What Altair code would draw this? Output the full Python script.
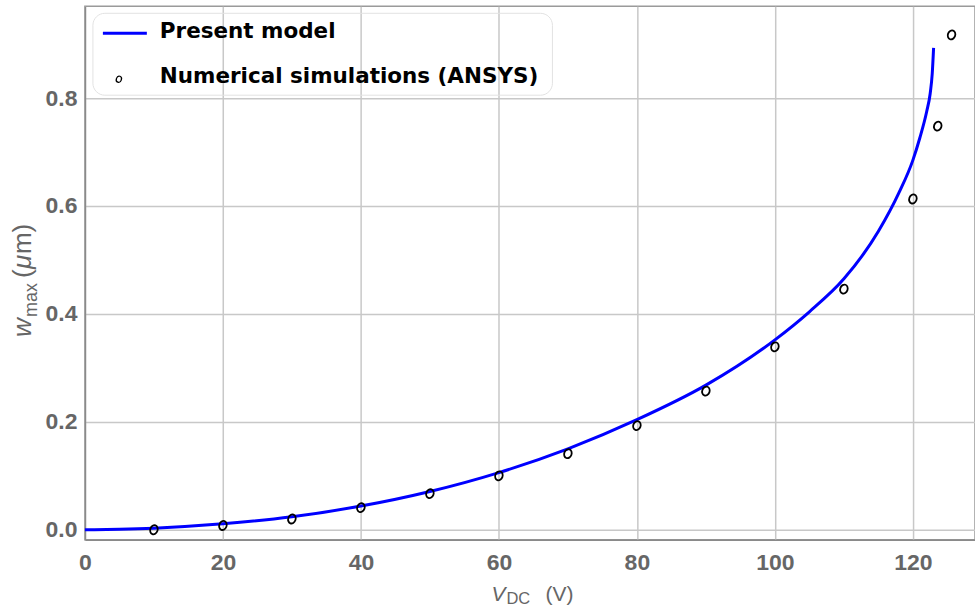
import altair as alt
import pandas as pd

# ---- data ----
model_v = [0, 5, 10, 20, 30, 40, 50, 60, 70, 80, 90, 100, 105, 110, 115, 118,
           120, 121, 122, 122.5, 122.8, 123.0]
model_w = [0, 0.001, 0.003, 0.011, 0.024, 0.044, 0.071, 0.106, 0.150, 0.204,
           0.268, 0.352, 0.404, 0.465, 0.553, 0.625, 0.685, 0.726, 0.775,
           0.808, 0.845, 0.893]

sim_v = [10, 20, 30, 40, 50, 60, 70, 80, 90, 100, 110, 120, 123.6, 125.6]
sim_w = [0.0, 0.008, 0.020, 0.041, 0.067, 0.100, 0.141, 0.193, 0.257, 0.339,
         0.446, 0.613, 0.748, 0.917]

x_ticks = [0, 20, 40, 60, 80, 100, 120]
y_ticks = [0.0, 0.2, 0.4, 0.6, 0.8]

legend_labels = ["Present model", "Numerical simulations (ANSYS)"]

model = pd.DataFrame({"v": model_v, "w": model_w})
sim = pd.DataFrame({"v": sim_v, "w": sim_w})
one = pd.DataFrame({"k": [0]})

FONT = "Liberation Sans"
LFONT = "DejaVu Sans"
GRAY = "#666666"
W, H = 891, 534

# slanted open ellipse, like an italic "o"
OSHAPE = ("M -0.752,-0.274 A 0.8,1,20,1,1,0.752,0.274 "
          "A 0.8,1,20,1,1,-0.752,-0.274 Z")

xs = alt.Scale(domain=[0, 129], nice=False, zero=False)
ys = alt.Scale(domain=[-0.0185, 0.97], nice=False, zero=False)

xax = alt.Axis(values=x_ticks, title=None, format="d", ticks=False,
               labelFont=FONT, labelFontSize=23, labelFontWeight="bold",
               labelColor=GRAY, labelPadding=12, labelFlush=False,
               domainColor="#8a8a8a", domainWidth=1.5,
               gridColor="#c8c8c8", gridWidth=1.5)
yax = alt.Axis(values=y_ticks, title=None, format=".1f", ticks=False,
               labelFont=FONT, labelFontSize=23, labelFontWeight="bold",
               labelColor=GRAY, labelPadding=8, labelFlush=False,
               domainColor="#8a8a8a", domainWidth=1.5,
               gridColor="#c8c8c8", gridWidth=1.5)

line = alt.Chart(model).mark_line(color="#0000ff", strokeWidth=3,
                                  interpolate="monotone").encode(
    x=alt.X("v:Q", scale=xs, axis=xax),
    y=alt.Y("w:Q", scale=ys, axis=yax),
)

pts = alt.Chart(sim).mark_point(shape=OSHAPE, size=85, filled=False,
                                color="black", strokeWidth=1.8,
                                opacity=1).encode(
    x=alt.X("v:Q", scale=xs),
    y=alt.Y("w:Q", scale=ys),
)

OX, OY = 85, 6  # plot origin on the page


def txt(s, x, y, size, font=FONT, **kw):
    props = dict(text=s, font=font, fontSize=size, align="left",
                 baseline="alphabetic")
    props.update(kw)
    return alt.Chart(one).mark_text(**props).encode(
        x=alt.value(x - OX), y=alt.value(y - OY))


# legend (drawn by hand inside the plot)
leg_box = alt.Chart(one).mark_rect(fillOpacity=0, stroke="#e2e2e2",
                                   strokeWidth=1, cornerRadius=12).encode(
    x=alt.value(93 - OX), x2=alt.value(553 - OX),
    y=alt.value(13 - OY), y2=alt.value(95 - OY))
leg_line = alt.Chart(one).mark_rule(color="#0000ff", strokeWidth=3).encode(
    x=alt.value(103 - OX), x2=alt.value(147 - OX), y=alt.value(33 - OY))
leg_t1 = txt(legend_labels[0], 160, 38, 21.5, font=LFONT, fontWeight="bold",
             color="black")
leg_t2 = txt(legend_labels[1], 160, 83, 21.5, font=LFONT, fontWeight="bold",
             color="black")
leg_o = alt.Chart(one).mark_point(shape=OSHAPE, size=40, filled=False,
                                  color="black", strokeWidth=1.3,
                                  opacity=1).encode(
    x=alt.value(119 - OX), y=alt.value(79 - OY))

# x axis title V_DC (V)
xt1 = txt("V", 492, 601, 21, fontStyle="italic", color=GRAY)
xt2 = txt("DC", 507, 604, 16.5, color=GRAY)
xt3 = txt("(V)", 546, 601, 21, color=GRAY)

# y axis title w_max (μm), rotated
yt1 = txt("w", 31, 337, 26, fontStyle="italic", color=GRAY, angle=270)
yt2 = txt("max", 37, 317, 18, color=GRAY, angle=270)
yt3 = txt("(", 31, 278, 26, color=GRAY, angle=270)
yt4 = txt("μ", 31, 269, 26, fontStyle="italic", color=GRAY, angle=270)
yt5 = txt("m)", 31, 254, 26, color=GRAY, angle=270)

chart = alt.layer(
    line, pts, leg_box, leg_line, leg_t1, leg_t2, leg_o,
    xt1, xt2, xt3, yt1, yt2, yt3, yt4, yt5,
).properties(
    width=W, height=H,
    autosize=alt.AutoSizeParams(type="none"),
    padding={"left": OX, "top": OY, "right": 0, "bottom": 74},
    background="white",
).configure_view(stroke="#9a9a9a", strokeWidth=1.5)

chart.save("out.html", embed_options={"renderer": "svg", "actions": False})
